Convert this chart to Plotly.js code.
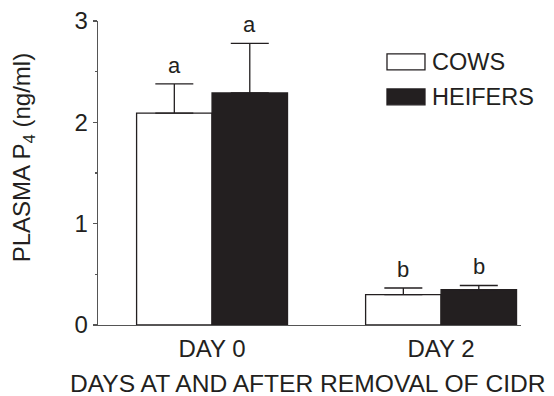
<!DOCTYPE html>
<html>
<head>
<meta charset="utf-8">
<script src="https://cdn.plot.ly/plotly-3.0.1.min.js"></script>
<style>
html,body{margin:0;padding:0;background:#fff;}
#chart{width:554px;height:396px;}
</style>
</head>
<body>
<div id="chart"></div>
<script>
const categories = ['DAY 0', 'DAY 2'];
const seriesNames = ['COWS', 'HEIFERS'];
const cowsMean = [2.09, 0.30];
const cowsSem = [0.29, 0.065];
const heifersMean = [2.29, 0.35];
const heifersSem = [0.49, 0.04];
const cowsLetters = ['a', 'b'];
const heifersLetters = ['a', 'b'];
const yTicks = [0, 1, 2, 3];
const xTitle = 'DAYS AT AND AFTER REMOVAL OF CIDR';
const yTitle = 'PLASMA P<sub>4</sub> (ng/ml)';

const ink = '#231f20';
const FONT = 'Liberation Sans, Arial, sans-serif';

const traces = [
  {
    type: 'bar', name: seriesNames[0], x: categories, y: cowsMean,
    marker: {color: '#ffffff', line: {color: ink, width: 1.3}},
    error_y: {type: 'data', array: cowsSem, arrayminus: cowsMean.map(() => 0), symmetric: false,
              color: ink, thickness: 1.3, width: 19},
    showlegend: false
  },
  {
    type: 'bar', name: seriesNames[1], x: categories, y: heifersMean,
    marker: {color: ink, line: {color: ink, width: 1.3}},
    error_y: {type: 'data', array: heifersSem, arrayminus: heifersMean.map(() => 0), symmetric: false,
              color: ink, thickness: 1.3, width: 19},
    showlegend: false
  }
];

const bargap = 0.341;
const half = (1 - bargap) / 4;
const annotations = [];
categories.forEach((c, i) => {
  annotations.push({x: i - half, y: cowsMean[i] + cowsSem[i], xref: 'x', yref: 'y', text: cowsLetters[i],
    showarrow: false, yanchor: 'bottom', yshift: 4, font: {family: FONT, size: 22, color: ink}});
  annotations.push({x: i + half, y: heifersMean[i] + heifersSem[i], xref: 'x', yref: 'y', text: heifersLetters[i],
    showarrow: false, yanchor: 'bottom', yshift: 4, font: {family: FONT, size: 22, color: ink}});
});
// legend text
annotations.push({x: 0.785, y: 0.8654, xref: 'paper', yref: 'paper', text: seriesNames[0], showarrow: false,
  xanchor: 'left', yanchor: 'middle', font: {family: FONT, size: 23.5, color: ink}});
annotations.push({x: 0.785, y: 0.7504, xref: 'paper', yref: 'paper', text: seriesNames[1], showarrow: false,
  xanchor: 'left', yanchor: 'middle', font: {family: FONT, size: 23.5, color: ink}});
// axis titles
annotations.push({x: 0.4976, y: -0.1921, xref: 'paper', yref: 'paper', text: xTitle, showarrow: false,
  xanchor: 'center', yanchor: 'middle', borderpad: 0, font: {family: FONT, size: 24.6, color: ink}});
annotations.push({x: -0.1773, y: 0.5484, xref: 'paper', yref: 'paper', text: yTitle, showarrow: false,
  textangle: -90, xanchor: 'center', yanchor: 'middle', font: {family: FONT, size: 24, color: ink}});

const shapes = [
  {type: 'rect', xref: 'paper', yref: 'paper', x0: 0.6832, x1: 0.7730, y0: 0.8391, y1: 0.8916,
   fillcolor: '#ffffff', line: {color: ink, width: 1.3}},
  {type: 'rect', xref: 'paper', yref: 'paper', x0: 0.6832, x1: 0.7730, y0: 0.7241, y1: 0.7767,
   fillcolor: ink, line: {color: ink, width: 1.3}}
];

const layout = {
  width: 554, height: 396,
  margin: {l: 98, r: 33, t: 21, b: 70.5, pad: 0},
  paper_bgcolor: '#ffffff', plot_bgcolor: '#ffffff',
  barmode: 'group', bargap: bargap, bargroupgap: 0,
  showlegend: false,
  font: {family: FONT, size: 24, color: ink},
  xaxis: {
    type: 'category', range: [-0.498, 1.349],
    showline: true, linecolor: '#555', linewidth: 1.3,
    ticks: '', showgrid: false, zeroline: false,
    ticklabelstandoff: 2,
    tickfont: {family: FONT, size: 24, color: ink},
    automargin: false
  },
  yaxis: {
    range: [0, 3], tickvals: yTicks, ticktext: yTicks.map(String),
    showline: true, linecolor: '#555', linewidth: 1.3,
    ticks: 'outside', ticklen: 4, tickcolor: '#555', tickwidth: 1.3,
    minor: {dtick: 0.5, tick0: 0, ticks: 'outside', ticklen: 2, tickcolor: '#555', tickwidth: 1.3, showgrid: false},
    showgrid: false, zeroline: false,
    tickfont: {family: FONT, size: 24, color: ink},
    automargin: false
  },
  annotations: annotations,
  shapes: shapes
};

Plotly.newPlot('chart', traces, layout, {staticPlot: true, displayModeBar: false});
</script>
</body>
</html>
